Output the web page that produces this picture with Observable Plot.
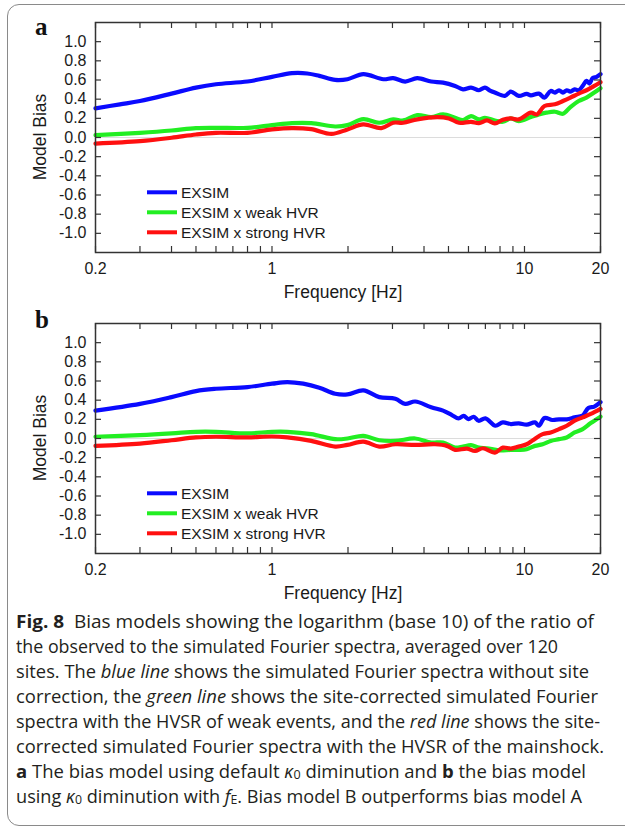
<!DOCTYPE html>
<html>
<head>
<meta charset="utf-8">
<script src="https://cdn.jsdelivr.net/npm/d3@7"></script>
<script src="https://cdn.jsdelivr.net/npm/@observablehq/plot@0.6"></script>
<style>
  html, body { margin: 0; padding: 0; background: #fff; }
  #page { position: relative; width: 625px; height: 830px; overflow: hidden; background: #fff; }
  #border { position: absolute; left: 7px; top: 4px; width: 650px; height: 822px; border: 1.5px solid #8a8a8a; border-radius: 12px; box-sizing: border-box; }
  .panel { position: absolute; left: 0; }
  #overlay { position: absolute; left: 0; top: 0; }
  #caption { position: absolute; left: 16px; top: 609px; font-family: "Open Sans", "Noto Sans", sans-serif; font-size: 18px; line-height: 25px; color: #231f20; white-space: nowrap; }
  #caption > div { height: 25px; }
  #caption span.ln { display: inline-block; transform-origin: 0 50%; }
  #caption sub { font-size: 0.68em; vertical-align: baseline; position: relative; top: 0.12em; line-height: 0; }
</style>
</head>
<body>
<div id="page">
  <div id="border"></div>
  <div id="panelA" class="panel" style="top:0px"></div>
  <div id="panelB" class="panel" style="top:301px"></div>
  <svg id="overlay" width="625" height="830"></svg>
  <div id="caption">
    <div><span class="ln"><b>Fig. 8</b>&nbsp; Bias models showing the logarithm (base 10) of the ratio of</span></div>
    <div><span class="ln">the observed to the simulated Fourier spectra, averaged over 120</span></div>
    <div><span class="ln">sites. The <i>blue line</i> shows the simulated Fourier spectra without site</span></div>
    <div><span class="ln">correction, the <i>green line</i> shows the site-corrected simulated Fourier</span></div>
    <div><span class="ln">spectra with the HVSR of weak events, and the <i>red line</i> shows the site-</span></div>
    <div><span class="ln">corrected simulated Fourier spectra with the HVSR of the mainshock.</span></div>
    <div><span class="ln"><b>a</b> The bias model using default <i>κ</i><sub>0</sub> diminution and <b>b</b> the bias model</span></div>
    <div><span class="ln">using <i>κ</i><sub>0</sub> diminution with <i>f</i><sub>E</sub>. Bias model B outperforms bias model A</span></div>
  </div>
</div>
<script>
// ---------- data ----------
const seriesNames = ["EXSIM", "EXSIM x weak HVR", "EXSIM x strong HVR"];
const seriesColors = ["#0a0aff", "#22ee22", "#ff1010"];
const panelLabels = ["a", "b"];
const xTickLabels = [0.2, 1, 10, 20];
const xMinorTicks = [0.2, 0.3, 0.4, 0.5, 0.6, 0.7, 0.8, 0.9, 1, 2, 3, 4, 5, 6, 7, 8, 9, 10, 20];
const yTicks = [-1.0, -0.8, -0.6, -0.4, -0.2, 0.0, 0.2, 0.4, 0.6, 0.8, 1.0];

// Panel a
const freqA_blue = [0.2,0.25,0.3,0.4,0.5,0.6,0.8,1.0,1.2,1.38,1.54,1.78,1.99,2.3,2.76,3.02,3.37,3.76,4.27,4.76,5.31,5.71,6.14,6.6,6.97,7.3,7.63,8.36,8.83,9.49,10.2,10.6,11.4,12.0,12.7,13.2,13.7,14.2,14.7,15.2,15.8,16.4,17.0,17.6,18.1,18.6,19.3,20];
const biasA_blue = [0.304,0.346,0.381,0.458,0.521,0.556,0.584,0.633,0.671,0.668,0.643,0.601,0.608,0.661,0.608,0.619,0.584,0.619,0.584,0.573,0.538,0.503,0.521,0.493,0.521,0.49,0.469,0.434,0.479,0.434,0.455,0.44,0.458,0.416,0.486,0.469,0.493,0.469,0.493,0.479,0.503,0.493,0.538,0.591,0.563,0.619,0.633,0.661];
const freqA_weak = [0.2,0.3,0.4,0.5,0.6,0.8,1.0,1.2,1.43,1.78,1.99,2.3,2.66,3.02,3.31,3.76,4.27,4.76,5.31,5.71,6.14,6.6,6.97,7.63,8.21,8.83,9.49,10.6,11.4,12.2,13.2,14.2,15.2,16.4,17.6,18.9,20];
const biasA_weak = [0.024,0.049,0.073,0.098,0.101,0.101,0.129,0.150,0.150,0.115,0.129,0.192,0.154,0.189,0.178,0.234,0.213,0.241,0.206,0.182,0.224,0.189,0.206,0.178,0.164,0.199,0.171,0.213,0.241,0.259,0.269,0.248,0.318,0.381,0.416,0.469,0.514];
const freqA_strong = [0.2,0.3,0.4,0.5,0.6,0.8,1.0,1.2,1.43,1.72,1.99,2.3,2.71,3.02,3.31,3.76,4.51,5.02,5.5,6.14,6.6,7.1,7.63,8.21,8.83,9.49,10.6,11.2,12.0,13.2,14.2,15.2,16.4,17.6,18.9,20];
const biasA_strong = [-0.063,-0.038,-0.003,0.031,0.049,0.049,0.084,0.098,0.087,0.038,0.084,0.136,0.098,0.154,0.154,0.189,0.213,0.199,0.154,0.164,0.150,0.178,0.147,0.185,0.199,0.189,0.259,0.241,0.329,0.346,0.381,0.416,0.458,0.493,0.538,0.577];

// Panel b
const freqB_blue = [0.2,0.3,0.4,0.5,0.6,0.8,1.0,1.15,1.33,1.54,1.78,1.99,2.3,2.66,3.08,3.37,3.69,4.27,4.76,5.16,5.48,5.74,6.0,6.29,6.58,7.0,7.67,8.21,8.83,9.49,10.2,11.0,11.4,12.0,12.9,13.7,14.7,15.8,17.0,17.9,18.9,20];
const biasB_blue = [0.291,0.361,0.432,0.495,0.519,0.537,0.572,0.589,0.572,0.530,0.467,0.460,0.502,0.432,0.414,0.361,0.386,0.326,0.291,0.245,0.21,0.237,0.203,0.227,0.185,0.21,0.133,0.168,0.151,0.158,0.144,0.168,0.133,0.214,0.193,0.200,0.200,0.221,0.239,0.319,0.333,0.379];
const freqB_weak = [0.2,0.3,0.4,0.5,0.6,0.8,1.0,1.15,1.43,1.78,1.99,2.3,2.66,3.08,3.69,4.27,4.76,5.31,5.71,6.14,6.6,7.1,7.92,8.83,9.49,10.2,11.0,11.8,12.7,13.7,14.7,15.8,17.0,18.3,20];
const biasB_weak = [0.018,0.035,0.053,0.070,0.070,0.053,0.070,0.070,0.046,-0.007,0.0,0.028,-0.018,-0.025,0.0,-0.042,-0.042,-0.095,-0.084,-0.070,-0.095,-0.102,-0.123,-0.119,-0.119,-0.112,-0.077,-0.060,-0.025,-0.007,0.011,0.063,0.098,0.161,0.228];
const freqB_strong = [0.2,0.3,0.4,0.5,0.6,0.8,1.0,1.15,1.43,1.78,1.99,2.3,2.66,3.08,3.69,4.43,4.93,5.31,5.92,6.37,6.84,7.63,8.21,8.83,9.49,10.2,10.8,11.8,12.7,13.7,14.7,15.8,17.0,18.3,20];
const biasB_strong = [-0.077,-0.053,-0.018,0.011,0.018,0.011,0.021,0.011,-0.025,-0.084,-0.067,-0.032,-0.084,-0.060,-0.067,-0.060,-0.077,-0.119,-0.105,-0.130,-0.102,-0.147,-0.095,-0.105,-0.084,-0.060,-0.018,0.046,0.063,0.098,0.133,0.186,0.221,0.256,0.309];

// ---------- build ----------
function rows(freqs, vals, name) {
  return freqs.map((f, i) => ({series: name, f, v: vals[i]}));
}
const dataA = [
  ...rows(freqA_blue, biasA_blue, seriesNames[0]),
  ...rows(freqA_weak, biasA_weak, seriesNames[1]),
  ...rows(freqA_strong, biasA_strong, seriesNames[2])
];
const dataB = [
  ...rows(freqB_blue, biasB_blue, seriesNames[0]),
  ...rows(freqB_weak, biasB_weak, seriesNames[1]),
  ...rows(freqB_strong, biasB_strong, seriesNames[2])
];

const W = 625, mL = 95, mR = 25, mT = 22, mB = 50, innerH = 230;
const innerW = W - mL - mR;
const tickLen = 6;
const frameColor = "#333";

function makePanel(data) {
  return Plot.plot({
    width: W,
    height: mT + innerH + mB,
    marginLeft: mL, marginRight: mR, marginTop: mT, marginBottom: mB,
    style: {fontFamily: "'Liberation Sans', Arial, sans-serif", fontSize: "16px", color: "#1a1a1a", background: "transparent", overflow: "visible"},
    x: {type: "log", domain: [0.2, 20]},
    y: {domain: [-1.2, 1.2]},
    color: {domain: seriesNames, range: seriesColors},
    marks: [
      Plot.ruleY([0], {stroke: "#dcdcdc", strokeWidth: 1}),
      Plot.line(data, {x: "f", y: "v", z: "series", stroke: "series", strokeWidth: 4.2, curve: "catmull-rom", strokeLinejoin: "round"}),
      Plot.ruleX(xMinorTicks, {insetBottom: innerH - tickLen, stroke: frameColor, strokeWidth: 1.2}),
      Plot.ruleX(xMinorTicks, {insetTop: innerH - tickLen, stroke: frameColor, strokeWidth: 1.2}),
      Plot.ruleY(yTicks, {insetRight: innerW - tickLen, stroke: frameColor, strokeWidth: 1.2}),
      Plot.ruleY(yTicks, {insetLeft: innerW - tickLen, stroke: frameColor, strokeWidth: 1.2}),
      Plot.axisX(xTickLabels, {tickSize: 0, tickPadding: 10, tickFormat: d => String(d), label: null}),
      Plot.axisY(yTicks, {tickSize: 0, tickPadding: 9, tickFormat: d => d.toFixed(1), label: null}),
      Plot.frame({stroke: frameColor, strokeWidth: 1.5})
    ]
  });
}

document.getElementById("panelA").appendChild(makePanel(dataA));
document.getElementById("panelB").appendChild(makePanel(dataB));

// ---------- overlay text: panel labels, axis titles, legends ----------
const ov = d3.select("#overlay");
const panelTops = [0, 301];
panelTops.forEach((t, p) => {
  ov.append("text").attr("x", 35).attr("y", t + 35 + (p === 1 ? -8 : 0))
    .attr("font-family", "'Liberation Serif', 'Times New Roman', serif")
    .attr("font-weight", "bold").attr("font-size", 25).attr("fill", "#111")
    .text(panelLabels[p]);
  ov.append("text").attr("transform", `translate(46,${t + mT + innerH / 2}) rotate(-90)`)
    .attr("text-anchor", "middle")
    .attr("font-family", "'Liberation Sans', Arial, sans-serif").attr("font-size", 17.5).attr("fill", "#1a1a1a")
    .text("Model Bias");
  ov.append("text").attr("x", 343).attr("y", t + 298)
    .attr("text-anchor", "middle")
    .attr("font-family", "'Liberation Sans', Arial, sans-serif").attr("font-size", 17.5).attr("fill", "#1a1a1a")
    .text("Frequency [Hz]");
  seriesNames.forEach((name, i) => {
    const cy = t + 192.3 + i * 20;
    ov.append("line").attr("x1", 147).attr("x2", 177).attr("y1", cy).attr("y2", cy)
      .attr("stroke", seriesColors[i]).attr("stroke-width", 4);
    ov.append("text").attr("x", 181).attr("y", cy + 5.5)
      .attr("font-family", "'Liberation Sans', Arial, sans-serif").attr("font-size", 15.5).attr("fill", "#1a1a1a")
      .text(name);
  });
});

// ---------- caption line widths (fit each line to the reference's measure) ----------
const captionLineWidths = [578, 542, 573, 582, 584, 588, 570, 566];
function fitCaption() {
  document.querySelectorAll("#caption span.ln").forEach((el, i) => {
    el.style.transform = "none";
    const w = el.getBoundingClientRect().width;
    if (w > 0) el.style.transform = `scaleX(${captionLineWidths[i] / w})`;
  });
}
fitCaption();
if (document.fonts && document.fonts.ready) document.fonts.ready.then(fitCaption);
</script>
</body>
</html>
